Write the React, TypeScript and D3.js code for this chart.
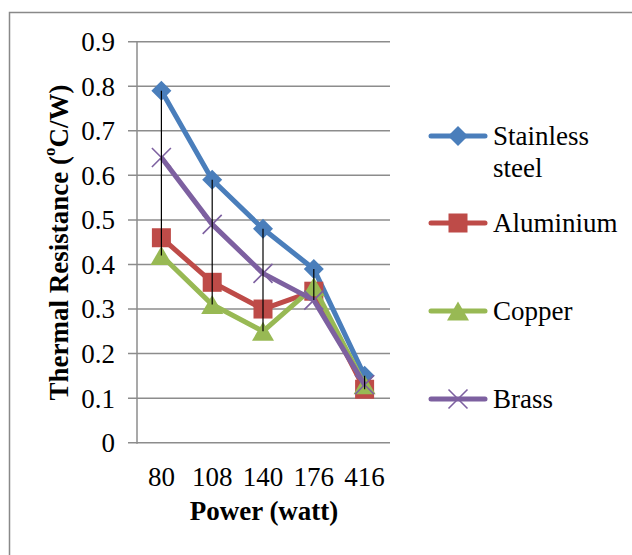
import React from "react";
import * as d3 from "d3";

const categories = ["80", "108", "140", "176", "416"];
const stainless = [0.79, 0.59, 0.48, 0.39, 0.15];
const aluminium = [0.46, 0.36, 0.3, 0.34, 0.12];
const copper = [0.42, 0.31, 0.25, 0.35, 0.13];
const brass = [0.64, 0.49, 0.38, 0.32, 0.13];
const yTicks = [0, 0.1, 0.2, 0.3, 0.4, 0.5, 0.6, 0.7, 0.8, 0.9];
const seriesNames = ["Stainless steel", "Aluminium", "Copper", "Brass"];

const colors = ["#4A7EBB", "#BE4B48", "#98B954", "#7D60A0"];
const shapes = ["diamond", "square", "triangle", "x"];

const FONT = "'Liberation Serif', 'Times New Roman', serif";
const FS = 27;

function Marker({ shape, x, y, color }: { shape: string; x: number; y: number; color: string }) {
  if (shape === "diamond") {
    const r = 10;
    return <path d={`M${x},${y - r}L${x + r},${y}L${x},${y + r}L${x - r},${y}Z`} fill={color} />;
  }
  if (shape === "square") {
    const r = 9.5;
    return <rect x={x - r} y={y - r} width={2 * r} height={2 * r} fill={color} />;
  }
  if (shape === "triangle") {
    const w = 11;
    return <path d={`M${x},${y - 9.5}L${x + w},${y + 9.5}L${x - w},${y + 9.5}Z`} fill={color} />;
  }
  const r = 9.5;
  return (
    <path
      d={`M${x - r},${y - r}L${x + r},${y + r}M${x - r},${y + r}L${x + r},${y - r}`}
      stroke={color}
      strokeWidth={1.6}
      fill="none"
    />
  );
}

export default function App() {
  const data = [stainless, aluminium, copper, brass];
  const x = d3.scalePoint<string>().domain(categories).range([136, 390]).padding(0.5);
  const y = d3.scaleLinear().domain([0, 0.9]).range([442.7, 41.7]);
  const line = d3
    .line<number>()
    .x((_, i) => x(categories[i]) as number)
    .y((d) => y(d));

  const legendY = [136, 223, 311, 399];

  return (
    <svg
      width={632}
      height={555}
      style={{ position: "absolute", left: 0, top: 0, background: "#fff" }}
      fontFamily={FONT}
    >
      <rect x={9.5} y={12.5} width={640} height={560} fill="#fff" stroke="#898989" strokeWidth={1.5} />
      {yTicks.map((t) => (
        <g key={t}>
          <line x1={128} x2={390} y1={y(t)} y2={y(t)} stroke="#8C8C8C" strokeWidth={1.5} />
          <text x={115} y={y(t)} dy="0.35em" textAnchor="end" fontSize={FS} fill="#000">
            {t === 0 ? "0" : d3.format(".1f")(t)}
          </text>
        </g>
      ))}
      <line x1={137} x2={137} y1={41.7} y2={y(0) + 1} stroke="#8C8C8C" strokeWidth={1.5} />
      {categories.map((c) => (
        <text key={c} x={x(c)} y={477} textAnchor="middle" dy="0.35em" fontSize={FS} fill="#000">
          {c}
        </text>
      ))}
      <text x={264} y={511} textAnchor="middle" dy="0.35em" fontSize={FS} fontWeight="bold">
        Power (watt)
      </text>
      <text
        transform={`translate(58.5,242.5) rotate(-90)`}
        textAnchor="middle"
        dy="0.35em"
        fontSize={FS}
        fontWeight="bold"
      >
        Thermal Resistance (<tspan fontSize={17} dy="-0.75em">o</tspan>
        <tspan dy="0.47em">C/W)</tspan>
      </text>
      {data.map((s, si) => (
        <g key={si}>
          <path d={line(s) || ""} fill="none" stroke={colors[si]} strokeWidth={5} strokeLinejoin="round" />
          {s.map((v, i) => (
            <Marker key={i} shape={shapes[si]} x={x(categories[i]) as number} y={y(v)} color={colors[si]} />
          ))}
        </g>
      ))}
      {categories.map((c, i) => {
        const vals = data.map((s) => s[i]);
        return (
          <line
            key={c}
            x1={x(c)}
            x2={x(c)}
            y1={y(d3.max(vals) as number)}
            y2={y(d3.min(vals) as number)}
            stroke="#000"
            strokeWidth={1.2}
          />
        );
      })}
      {seriesNames.map((n, i) => (
        <g key={n}>
          <line x1={431} x2={485} y1={legendY[i]} y2={legendY[i]} stroke={colors[i]} strokeWidth={5} strokeLinecap="round" />
          <Marker shape={shapes[i]} x={458} y={legendY[i]} color={colors[i]} />
          {n === "Stainless steel" ? (
            <text x={493} y={legendY[i]} dy="0.35em" fontSize={FS}>
              <tspan x={493}>Stainless</tspan>
              <tspan x={493} dy={32}>steel</tspan>
            </text>
          ) : (
            <text x={493} y={legendY[i]} dy="0.35em" fontSize={FS}>
              {n}
            </text>
          )}
        </g>
      ))}
    </svg>
  );
}
